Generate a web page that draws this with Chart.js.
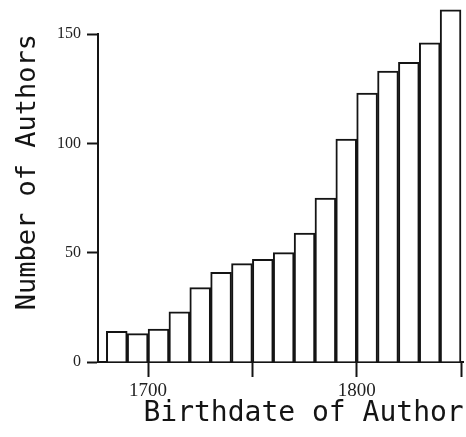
<!DOCTYPE html>
<html>
<head>
<meta charset="utf-8">
<title>Birthdate of Author</title>
<script src="https://cdn.jsdelivr.net/npm/chart.js@4/dist/chart.umd.min.js"></script>
<style>
    html, body { margin: 0; padding: 0; background: #fff; }
    canvas { display: block; }
</style>
</head>
<body>
<canvas id="hist" width="466" height="437"></canvas>
<script>
// start year of each 10-year bin
const binStarts = [1680, 1690, 1700, 1710, 1720, 1730, 1740, 1750, 1760, 1770, 1780, 1790, 1800, 1810, 1820, 1830, 1840];
const authorCounts = [14, 13, 15, 23, 34, 41, 45, 47, 50, 59, 75, 102, 123, 133, 137, 146, 161];
const binWidth = 10;

const yTicks = [0, 50, 100, 150];
const xTicks = [1700, 1750, 1800, 1850];
const xLabeled = [1700, 1800];

const ink = '#141414';

function buildPoints() {
    const pts = [];
    for (let i = 0; i < binStarts.length; i++) {
        pts.push({ x: binStarts[i] + binWidth / 2, y: authorCounts[i] });
    }
    return pts;
}

function renderHistogram() {
    const ctx = document.querySelector('#hist');
    new Chart(ctx, {
        type: 'bar',
        data: {
            datasets: [{
                data: buildPoints(),
                backgroundColor: '#ffffff',
                borderColor: ink,
                borderWidth: 2,
                barPercentage: 1,
                categoryPercentage: 1,
                clip: false
            }]
        },
        options: {
            responsive: false,
            animation: false,
            layout: { padding: { top: 34, left: 0, right: 0, bottom: 0 } },
            plugins: {
                legend: { display: false },
                tooltip: { enabled: false }
            },
            scales: {
                x: {
                    type: 'linear',
                    offset: false,
                    min: 1676,
                    max: 1851.3,
                    afterBuildTicks: (axis) => {
                        axis.ticks = xTicks.map(v => ({ value: v }));
                    },
                    border: { display: true, color: ink, width: 2 },
                    grid: {
                        offset: false,
                        drawOnChartArea: false,
                        drawTicks: true,
                        tickLength: 15,
                        tickColor: ink,
                        tickWidth: 2
                    },
                    ticks: {
                        autoSkip: false,
                        maxRotation: 0,
                        padding: 5,
                        color: '#222',
                        font: { family: 'Liberation Serif', size: 19, lineHeight: 1 },
                        callback: (v) => xLabeled.includes(v) ? String(v) : ''
                    },
                    title: {
                        display: true,
                        text: 'Birthdate of Author',
                        align: 'end',
                        color: ink,
                        font: { family: 'DejaVu Sans Mono', size: 28, lineHeight: 1 },
                        padding: { top: -6, bottom: 9 }
                    }
                },
                y: {
                    min: 0,
                    max: 150,
                    afterBuildTicks: (axis) => {
                        axis.ticks = yTicks.map(v => ({ value: v }));
                    },
                    border: { display: true, color: ink, width: 2 },
                    grid: {
                        drawOnChartArea: false,
                        drawTicks: true,
                        tickLength: 11,
                        tickColor: ink,
                        tickWidth: 2
                    },
                    ticks: {
                        padding: 6,
                        color: '#222',
                        font: { family: 'Liberation Serif', size: 16 }
                    },
                    title: {
                        display: true,
                        text: 'Number of Authors',
                        align: 'end',
                        color: ink,
                        font: { family: 'DejaVu Sans Mono', size: 27, lineHeight: 1 },
                        padding: { top: 14, bottom: 10 }
                    }
                }
            }
        }
    });
}

renderHistogram();
</script>
</body>
</html>
